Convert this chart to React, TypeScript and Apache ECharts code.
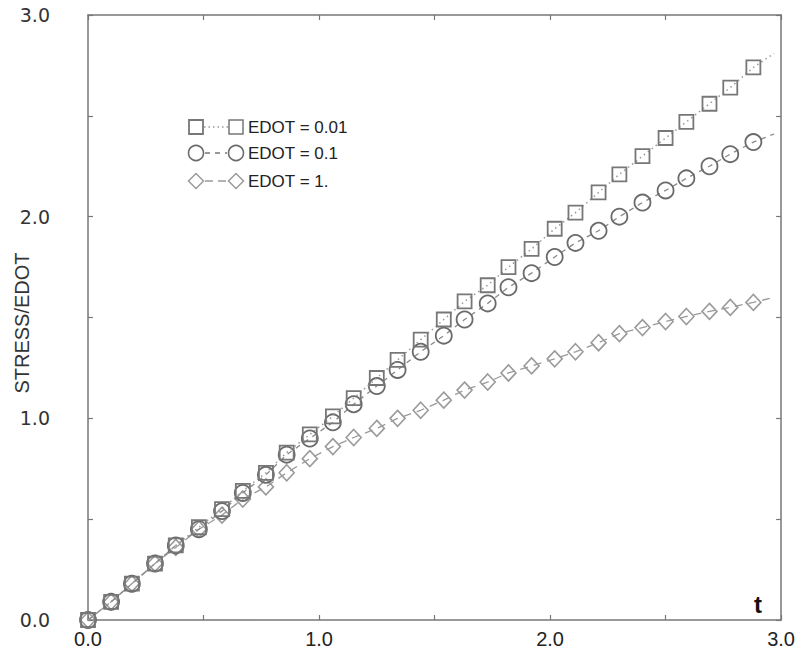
import React, { useEffect, useRef } from "react";
import * as echarts from "echarts";

// time values of the marked points
const T = [0, 0.1, 0.19, 0.29, 0.38, 0.48, 0.58, 0.67, 0.77, 0.86, 0.96, 1.06, 1.15, 1.25, 1.34, 1.44, 1.54, 1.63, 1.73, 1.82, 1.92, 2.02, 2.11, 2.21, 2.3, 2.4, 2.5, 2.59, 2.69, 2.78, 2.88];
const T_END = 2.97;

const EDOT_001 = [0, 0.09, 0.18, 0.28, 0.37, 0.46, 0.55, 0.64, 0.73, 0.83, 0.92, 1.01, 1.1, 1.2, 1.29, 1.39, 1.49, 1.58, 1.66, 1.75, 1.84, 1.94, 2.02, 2.12, 2.21, 2.3, 2.39, 2.47, 2.56, 2.64, 2.74];
const EDOT_001_END = 2.81;
const EDOT_01 = [0, 0.09, 0.18, 0.28, 0.37, 0.45, 0.54, 0.63, 0.72, 0.82, 0.9, 0.98, 1.07, 1.16, 1.24, 1.33, 1.41, 1.49, 1.57, 1.65, 1.72, 1.8, 1.87, 1.93, 2.0, 2.07, 2.13, 2.19, 2.25, 2.31, 2.37];
const EDOT_01_END = 2.41;
const EDOT_1 = [0, 0.09, 0.18, 0.28, 0.36, 0.45, 0.52, 0.6, 0.66, 0.73, 0.8, 0.86, 0.905, 0.95, 1.0, 1.04, 1.09, 1.14, 1.18, 1.225, 1.26, 1.295, 1.33, 1.375, 1.42, 1.45, 1.48, 1.505, 1.53, 1.55, 1.575];
const EDOT_1_END = 1.6;

const LEGEND_LABELS = ["EDOT = 0.01", "EDOT = 0.1", "EDOT = 1."];
const X_NAME = "t";
const Y_NAME = "STRESS/EDOT";

function build(vals: number[], end: number) {
  const d: any[] = T.map((t, i) => [t, vals[i]]);
  d.push({ value: [T_END, end], symbol: "none" });
  return d;
}

export default function App() {
  const ref = useRef<HTMLDivElement>(null);
  useEffect(() => {
    if (!ref.current) return;
    const chart = echarts.init(ref.current, undefined, { renderer: "svg" });
    const axisLine = { show: true, onZero: false, lineStyle: { color: "#777", width: 1.5 } };
    const tick = { show: true, inside: true, length: 5, lineStyle: { color: "#777", width: 1.2 } };
    const fmt = (v: number) => (Math.abs(v - Math.round(v)) < 1e-6 ? v.toFixed(1) : "");
    const font = "'Liberation Sans Narrow', 'Liberation Sans', Arial, sans-serif";
    const c1 = "#777", c2 = "#6a6a6a", c3 = "#9a9a9a";
    const lx1 = 196, lx2 = 236, ltx = 248;
    const rows = [127, 153, 181];
    const diamond = (cx: number, cy: number, r: number) => [[cx - r, cy], [cx, cy - r], [cx + r, cy], [cx, cy + r]];
    chart.setOption({
      animation: false,
      backgroundColor: "#fff",
      grid: { left: 88, right: 14, top: 15, bottom: 32 },
      xAxis: [
        {
          type: "value", min: 0, max: 3, interval: 0.5, position: "bottom",
          axisLine, axisTick: tick, splitLine: { show: false },
          axisLabel: { formatter: fmt, margin: 9, fontSize: 20, fontFamily: font, color: "#222", showMaxLabel: true },
        },
        {
          type: "value", min: 0, max: 3, interval: 0.5, position: "top",
          axisLine, axisTick: tick, splitLine: { show: false }, axisLabel: { show: false },
        },
      ],
      yAxis: [
        {
          type: "value", min: 0, max: 3, interval: 0.5, position: "left",
          axisLine, axisTick: tick, splitLine: { show: false },
          axisLabel: { formatter: fmt, margin: 38, fontSize: 19, fontFamily: "'DejaVu Sans', sans-serif", color: "#333" },
        },
        {
          type: "value", min: 0, max: 3, interval: 0.5, position: "right",
          axisLine, axisTick: tick, splitLine: { show: false }, axisLabel: { show: false },
        },
      ],
      series: [
        {
          type: "line", data: build(EDOT_1, EDOT_1_END), symbol: "diamond", symbolSize: [15, 16],
          lineStyle: { color: c3, width: 1.3, type: [8, 6] },
          itemStyle: { color: "rgba(0,0,0,0)", borderColor: c3, borderWidth: 1.6 },
          z: 2,
        },
        {
          type: "line", data: build(EDOT_01, EDOT_01_END), symbol: "circle", symbolSize: 16,
          lineStyle: { color: "#888", width: 1.3, type: [5, 5] },
          itemStyle: { color: "rgba(0,0,0,0)", borderColor: c2, borderWidth: 1.8 },
          z: 3,
        },
        {
          type: "line", data: build(EDOT_001, EDOT_001_END), symbol: "rect", symbolSize: 14,
          lineStyle: { color: "#999", width: 1.5, type: [1.5, 3.5] },
          itemStyle: { color: "rgba(0,0,0,0)", borderColor: c1, borderWidth: 1.8 },
          z: 4,
        },
      ],
      graphic: [
        // legend row 1
        { type: "rect", shape: { x: lx1 - 7, y: rows[0] - 7, width: 14, height: 14 }, style: { fill: "none", stroke: c1, lineWidth: 1.8 } },
        { type: "line", shape: { x1: lx1 + 8, y1: rows[0], x2: lx2 - 8, y2: rows[0] }, style: { stroke: "#999", lineWidth: 1.5, lineDash: [1.5, 3] } },
        { type: "rect", shape: { x: lx2 - 7, y: rows[0] - 7, width: 14, height: 14 }, style: { fill: "none", stroke: c1, lineWidth: 1.5 } },
        { type: "text", x: ltx, y: rows[0], style: { text: LEGEND_LABELS[0], fontSize: 17, fontFamily: "'Liberation Sans', Arial, sans-serif", fill: "#222", verticalAlign: "middle" } },
        // legend row 2
        { type: "circle", shape: { cx: lx1, cy: rows[1], r: 7.5 }, style: { fill: "none", stroke: c2, lineWidth: 1.6 } },
        { type: "line", shape: { x1: lx1 + 9, y1: rows[1], x2: lx2 - 9, y2: rows[1] }, style: { stroke: "#777", lineWidth: 1.5, lineDash: [5, 5] } },
        { type: "circle", shape: { cx: lx2, cy: rows[1], r: 7.5 }, style: { fill: "none", stroke: c2, lineWidth: 1.6 } },
        { type: "text", x: ltx, y: rows[1], style: { text: LEGEND_LABELS[1], fontSize: 17, fontFamily: "'Liberation Sans', Arial, sans-serif", fill: "#222", verticalAlign: "middle" } },
        // legend row 3
        { type: "polygon", shape: { points: diamond(lx1, rows[2], 7.5) }, style: { fill: "none", stroke: c3, lineWidth: 1.5 } },
        { type: "line", shape: { x1: lx1 + 9, y1: rows[2], x2: lx2 - 9, y2: rows[2] }, style: { stroke: c3, lineWidth: 1.5, lineDash: [8, 5] } },
        { type: "polygon", shape: { points: diamond(lx2, rows[2], 7.5) }, style: { fill: "none", stroke: c3, lineWidth: 1.5 } },
        { type: "text", x: ltx, y: rows[2], style: { text: LEGEND_LABELS[2], fontSize: 17, fontFamily: "'Liberation Sans', Arial, sans-serif", fill: "#222", verticalAlign: "middle" } },
        // axis names
        { type: "text", x: 758, y: 604, style: { text: X_NAME, fontSize: 24, fontWeight: "bold", fontFamily: "'Liberation Sans', Arial, sans-serif", fill: "#111", align: "center", verticalAlign: "middle" } },
        { type: "text", x: 22, y: 323, rotation: Math.PI / 2, style: { text: Y_NAME, fontSize: 20, fontFamily: font, fill: "#333", align: "center", verticalAlign: "middle" } },
      ],
    });
    return () => chart.dispose();
  }, []);
  return <div ref={ref} style={{ width: 798, height: 652, position: "absolute", left: 0, top: 0 }} />;
}
